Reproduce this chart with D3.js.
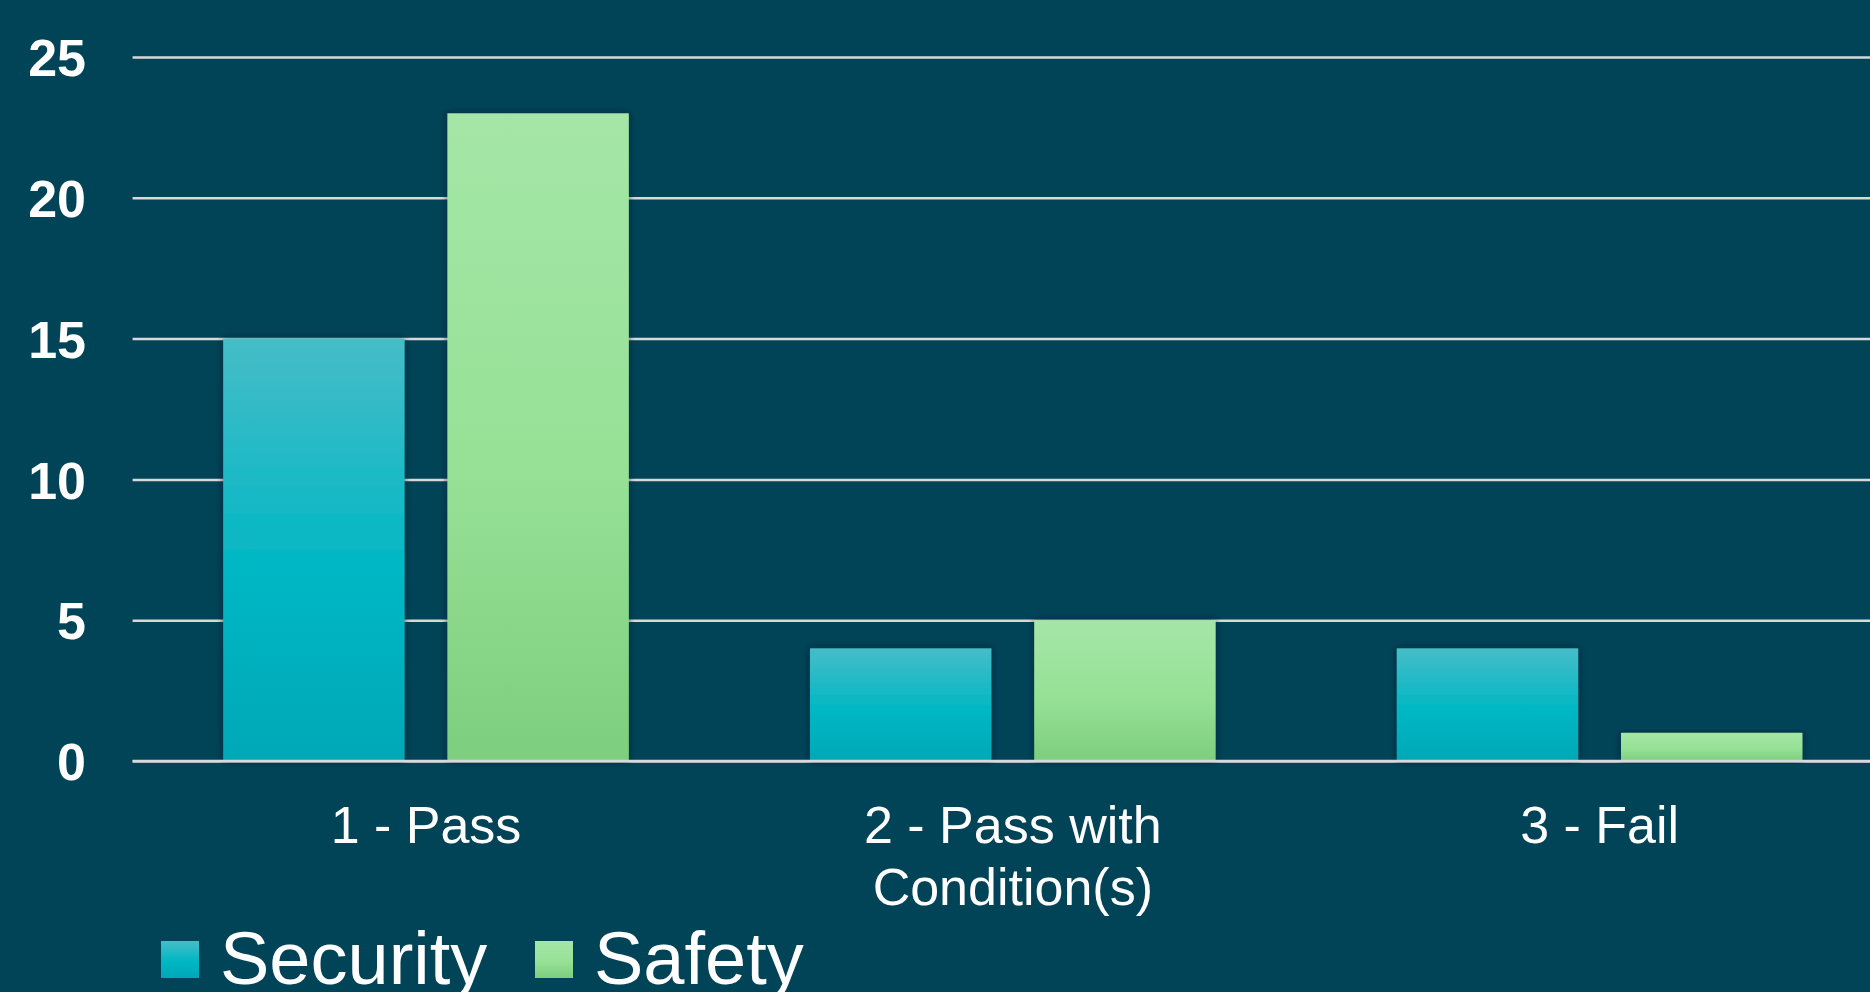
<!DOCTYPE html>
<html>
<head>
<meta charset="utf-8">
<script src="https://cdn.jsdelivr.net/npm/d3@7"></script>
<style>
  html, body { margin: 0; padding: 0; background: #014357; overflow: hidden; }
  text { font-family: "Liberation Sans", Arial, sans-serif; fill: #ffffff; }
</style>
</head>
<body>
<div id="chart"></div>
<script>
// data
categories = ["1 - Pass", "2 - Pass with Condition(s)", "3 - Fail"]
catLines = [["1 - Pass"], ["2 - Pass with", "Condition(s)"], ["3 - Fail"]]
series = ["Security", "Safety"]
security = [15, 4, 4]
safety = [23, 5, 1]
yTicks = [0, 5, 10, 15, 20, 25]

width = 1870, height = 992
margin = {top: 57, left: 132.6, bottom: 231}

svg = d3.select("#chart")
  .append("svg")
  .attr("width", width)
  .attr("height", height)

svg.append("rect").attr("width", width).attr("height", height).attr("fill", "#014357")

defs = svg.append("defs")

// vertical gradients per series
gradStops = {
  Security: [["0%", "#46bdc8"], ["55%", "#00b7c4"], ["100%", "#00a8b6"]],
  Safety: [["0%", "#a5e6a7"], ["55%", "#96e196"], ["100%", "#7ece7f"]]
}
series.forEach(s => {
  g = defs.append("linearGradient").attr("id", "grad-" + s)
    .attr("x1", 0).attr("y1", 0).attr("x2", 0).attr("y2", 1)
  gradStops[s].forEach(st => g.append("stop").attr("offset", st[0]).attr("stop-color", st[1]))
})

shadow = defs.append("filter").attr("id", "shadow")
  .attr("x", "-10%").attr("y", "-10%").attr("width", "120%").attr("height", "120%")
shadow.append("feDropShadow").attr("dx", 0).attr("dy", 0).attr("stdDeviation", 3)
  .attr("flood-color", "#001c26").attr("flood-opacity", 0.7)

// scales
x0 = d3.scaleBand()
  .domain(categories)
  .range([margin.left, margin.left + 3 * 586.8])
  .padding(0)

x1 = d3.scaleBand()
  .domain(series)
  .range([0, x0.bandwidth()])
  .paddingInner(0.191)
  .paddingOuter(0.404)

y = d3.scaleLinear()
  .domain([0, 25])
  .range([height - margin.bottom, margin.top])

// gridlines
grid = svg.append("g")
  .attr("transform", `translate(${margin.left}, 0)`)
  .call(d3.axisLeft(y).tickValues(yTicks).tickSize(-(width - margin.left)).tickFormat(""))
grid.select(".domain").remove()
grid.selectAll(".tick line")
  .attr("stroke", "#d9d9d9")
  .attr("stroke-width", 2.5)

// y labels
yAxis = svg.append("g")
  .attr("transform", `translate(86, 0)`)
  .call(d3.axisLeft(y).tickValues(yTicks).tickSize(0).tickPadding(0))
yAxis.select(".domain").remove()
yAxis.selectAll("text")
  .style("font-family", "'Liberation Sans', Arial, sans-serif")
  .style("font-size", "52px")
  .style("font-weight", "bold")
  .attr("fill", "#ffffff")
  .attr("dy", "0.36em")

// bars
rows = categories.map((c, i) => ({cat: c, values: [
  {key: "Security", value: security[i]},
  {key: "Safety", value: safety[i]}
]}))

groups = svg.selectAll(".grp")
  .data(rows)
  .join("g")
  .attr("class", "grp")
  .attr("transform", d => `translate(${x0(d.cat)}, 0)`)

groups.selectAll("rect")
  .data(d => d.values)
  .join("rect")
  .attr("x", d => x1(d.key))
  .attr("y", d => y(d.value))
  .attr("width", x1.bandwidth())
  .attr("height", d => y(0) - y(d.value))
  .attr("fill", d => "url(#grad-" + d.key + ")")
  .attr("filter", "url(#shadow)")

// redraw baseline on top
svg.append("line")
  .attr("x1", margin.left).attr("x2", width)
  .attr("y1", y(0)).attr("y2", y(0))
  .attr("stroke", "#d9d9d9").attr("stroke-width", 2.5)

// category labels
catG = svg.selectAll(".cat")
  .data(categories)
  .join("text")
  .attr("class", "cat")
  .attr("text-anchor", "middle")
  .style("font-size", "52px")
  .attr("x", d => x0(d) + x0.bandwidth() / 2)
  .attr("y", 843)
catG.each(function(d, i) {
  el = d3.select(this)
  catLines[i].forEach((ln, j) => {
    el.append("tspan")
      .attr("x", x0(d) + x0.bandwidth() / 2)
      .attr("dy", j === 0 ? 0 : 62)
      .text(ln)
  })
})

// legend (cut by the bottom edge, as in the original slide)
legendX = [161, 535]
legend = svg.selectAll(".leg")
  .data(series)
  .join("g")
  .attr("class", "leg")
  .attr("transform", (d, i) => `translate(${legendX[i]}, 941)`)
legend.append("rect")
  .attr("width", 38).attr("height", 37)
  .attr("fill", d => "url(#grad-" + d + ")")
legend.append("text")
  .attr("x", 59)
  .attr("y", 43)
  .style("font-size", "74px")
  .text(d => d)
</script>
</body>
</html>
